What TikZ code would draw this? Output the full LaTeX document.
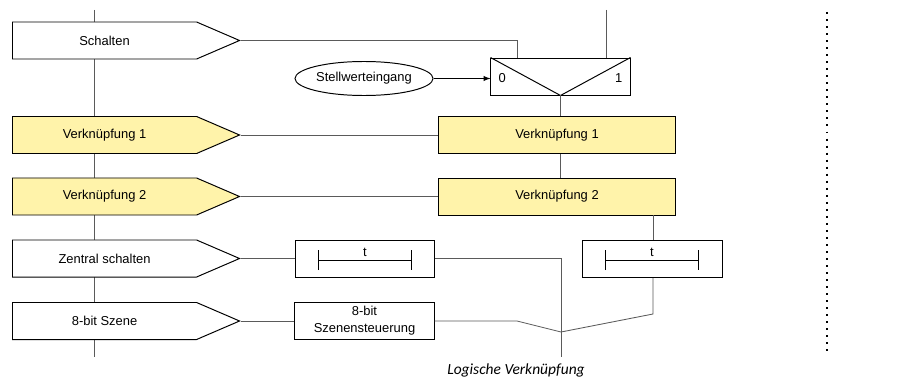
\documentclass[tikz,border=0pt]{standalone}
\usepackage{fontspec}
\setmainfont{Liberation Sans}
\newfontfamily\capfont{Carlito}
\usepackage{tikz}
\usetikzlibrary{shapes.symbols,shapes.geometric}
\usetikzlibrary{calc,arrows.meta}
\definecolor{vkyellow}{RGB}{255,243,170}
\definecolor{wiregray}{RGB}{90,90,90}
\tikzset{
  inpin/.style={signal, signal to=east, signal pointer angle=46.6, draw, line width=0.7pt,
    fill=white, minimum width=5.675cm, minimum height=0.925cm, inner sep=0pt, anchor=west,
    font=\fontsize{9.2}{11}\selectfont},
  fbox/.style={draw, line width=0.7pt, fill=white, minimum height=0.925cm, inner sep=0pt,
    font=\fontsize{9.2}{11}\selectfont},
  wire/.style={draw=wiregray, line width=0.6pt},
  tbar/.style={line width=0.7pt, {Bar[width=5mm]}-{Bar[width=5mm]}},
}

\begin{document}
\begin{tikzpicture}[x=0.025cm, y=-0.025cm]
    \useasboundingbox[fill=white] (0,0) rectangle (918,381);

    % Bus links
    \coordinate (bustop) at (94,10);
    \coordinate (busbot) at (94,357);
    \draw[wire] (bustop) -- (busbot);

    \node[inpin] at (12,40.5) (sch) {Schalten};
    \node[inpin, fill=vkyellow] at (12,135) (vk1) {Verknüpfung 1};
    \node[inpin, fill=vkyellow] at (12,196.5) (vk2) {Verknüpfung 2};
    \node[inpin] at (12,258.5) (zen) {Zentral schalten};
    \node[inpin] at (12,321) (sz) {8-bit Szene};

    % Umschalter
    \node[fbox, minimum width=3.475cm] at (560.5,76.5) (mux) {};
    \draw[line width=0.7pt] (mux.north west) -- (mux.south) -- (mux.north east);
    \node[anchor=west, xshift=0.8mm, yshift=-0.5mm, font=\fontsize{9.2}{11}\selectfont] at (mux.west) (m0) {0};
    \node[anchor=east, xshift=-0.8mm, yshift=-0.5mm, font=\fontsize{9.2}{11}\selectfont] at (mux.east) (m1) {1};
    \node[draw, ellipse, line width=0.7pt, minimum width=3.45cm, minimum height=0.85cm, inner sep=0pt,
      font=\fontsize{9.2}{11}\selectfont] at (364,78.5) (sw) {Stellwerteingang};

    \node[fbox, fill=vkyellow, minimum width=5.9cm] at (557,135) (vk1r) {Verknüpfung 1};
    \node[fbox, fill=vkyellow, minimum width=5.9cm] at (557,196.5) (vk2r) {Verknüpfung 2};
    \node[fbox, minimum width=3.45cm] at (365,258.5) (tb1) {};
    \node[fbox, minimum width=3.5cm] at (652,259) (tb2) {};
    \node[fbox, minimum width=3.475cm, align=center, font=\fontsize{9.2}{12}\selectfont] at (364.5,321) (steu) {8-bit\\Szenensteuerung};

    \draw[tbar] ($(tb1.center)+(-47,1.5)$) -- node[above=-0.4mm, font=\fontsize{9.2}{11}\selectfont] (t1) {t} ($(tb1.center)+(47,1.5)$);
    \draw[tbar] ($(tb2.center)+(-47,1)$) -- node[above=-0.4mm, font=\fontsize{9.2}{11}\selectfont] (t2) {t} ($(tb2.center)+(47,1)$);

    \coordinate (schx) at (517,0);
    \coordinate (top1) at (606,10);
    \coordinate (tbx) at (653,0);
    \coordinate (kink1) at (517,321);
    \coordinate (kink2) at (653,314);
    \coordinate (join) at (561,332);
    \coordinate (outb) at (561,357);

    \draw[wire] (sch.east) -| (schx |- mux.north);
    \draw[wire] (top1) -- (top1 |- mux.north);
    \draw[->, >=latex, line width=0.7pt] (sw.east) -- (sw.east -| mux.west);
    \draw[wire] (mux.south) -- (mux.south |- vk1r.north);
    \draw[wire] (vk1.east) -- (vk1r.west);
    \draw[wire] (vk2.east) -- (vk2r.west);
    \draw[wire] (vk1r.south -| mux.south) -- (vk2r.north -| mux.south);
    \draw[wire] (zen.east) -- (tb1.west);
    \draw[wire] (tb1.east) -| (outb);
    \draw[wire] (sz.east) -- (steu.west);
    \draw[wire] (steu.east) -- (kink1) -- (join);
    \draw[wire] (tbx |- vk2r.south) -- (tbx |- tb2.north);
    \draw[wire] (tbx |- tb2.south) -- (kink2) -- (join);

    % Trennlinie
    \coordinate (d1) at (827,12);
    \coordinate (d2) at (827,355);
    \draw[line width=1.4pt, dash pattern=on 1.4pt off 3.6pt] (d1) -- (d2);

    \node[font=\capfont\itshape\fontsize{11}{13}\selectfont] at (516,370) (cap) {Logische Verknüpfung};
\end{tikzpicture}
\end{document}
